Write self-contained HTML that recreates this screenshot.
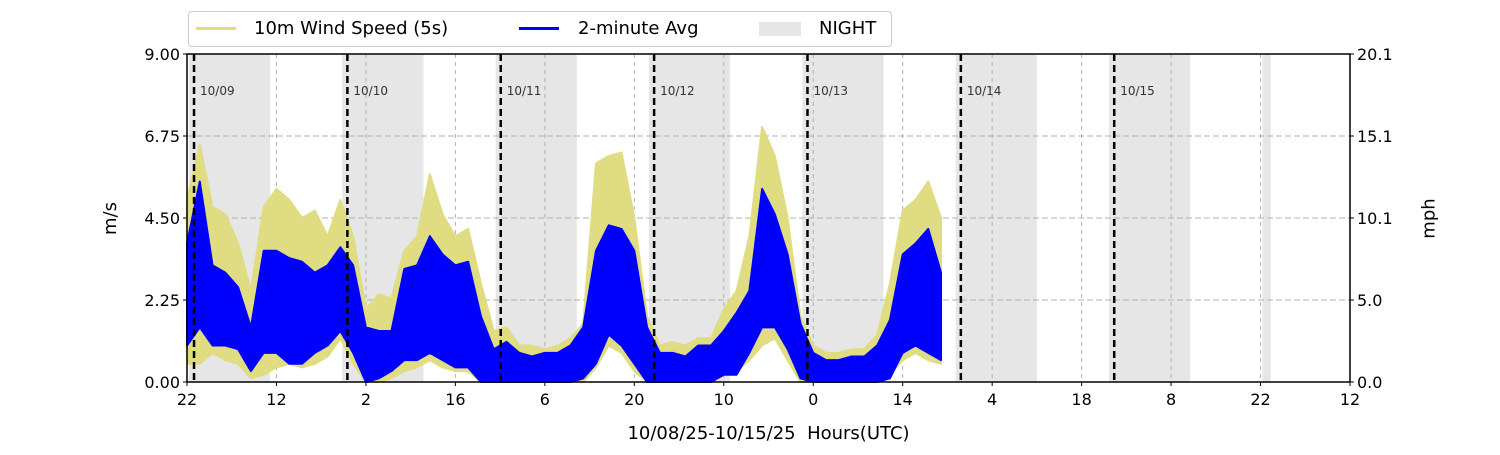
<!DOCTYPE html>
<html><head><meta charset="utf-8"><style>
body{margin:0;background:#fff;font-family:"Liberation Sans","DejaVu Sans",sans-serif}
svg text{font-family:"DejaVu Sans","Liberation Sans",sans-serif}
</style></head><body>
<svg id="c" width="1500" height="450" viewBox="0 0 1500 450"></svg>
<script>
const tickLabels=["22","12","2","16","6","20","10","0","14","4","18","8","22","12"];
const dayLabels=["10/09","10/10","10/11","10/12","10/13","10/14","10/15"];
const yTicks=[0,2.25,4.5,6.75,9];
const mphLabels=["0.0","5.0","10.1","15.1","20.1"];
const gustHi=[5.0,6.5,4.8,4.6,3.8,2.5,4.8,5.3,5.0,4.5,4.7,4.0,5.0,4.0,2.0,2.4,2.3,3.6,4.0,5.7,4.6,4.0,4.2,2.7,1.4,1.5,1.0,1.0,0.9,1.0,1.2,1.6,6.0,6.2,6.3,4.5,1.8,1.0,1.1,1.0,1.2,1.2,2.0,2.5,4.0,7.0,6.2,4.5,1.8,1.0,0.8,0.8,0.9,0.9,1.3,2.7,4.7,5.0,5.5,4.5];
const gustLo=[0.5,0.5,0.8,0.6,0.5,0.1,0.2,0.4,0.5,0.4,0.5,0.7,1.2,0.5,0,0,0.1,0.3,0.4,0.6,0.4,0.3,0.3,0,0,0,0,0,0,0,0,0,0.4,1.0,0.8,0.3,0,0,0,0,0,0,0.2,0.3,0.6,1.0,1.2,0.6,0,0,0,0,0,0,0,0.2,0.6,0.8,0.6,0.5];
const avgHi=[3.8,5.5,3.2,3.0,2.6,1.5,3.6,3.6,3.4,3.3,3.0,3.2,3.7,3.2,1.5,1.4,1.4,3.1,3.2,4.0,3.5,3.2,3.3,1.8,0.9,1.1,0.8,0.7,0.8,0.8,1.0,1.5,3.6,4.3,4.2,3.6,1.5,0.8,0.8,0.7,1.0,1.0,1.4,1.9,2.5,5.3,4.6,3.5,1.6,0.8,0.6,0.6,0.7,0.7,1.0,1.7,3.5,3.8,4.2,3.0];
const avgLo=[1.0,1.5,1.0,1.0,0.9,0.3,0.8,0.8,0.5,0.5,0.8,1.0,1.4,0.8,0,0.1,0.3,0.6,0.6,0.8,0.6,0.4,0.4,0,0,0,0,0,0,0,0,0.1,0.5,1.3,1.0,0.5,0,0,0,0,0,0,0.2,0.2,0.8,1.5,1.5,0.9,0.1,0,0,0,0,0,0,0.1,0.8,1.0,0.8,0.6];
const L=187,R=1350,T=54,B=382;
const X=h=>L+h*(R-L)/182, Y=v=>B-v*(B-T)/9;
const svg=document.getElementById('c');const NS='http://www.w3.org/2000/svg';
function mk(t,a,p){const e=document.createElementNS(NS,t);for(const k in a)e.setAttribute(k,a[k]);(p||svg).appendChild(e);return e;}
for(let k=0;k<7;k++){const m=1.1+24*k;
const r=mk('rect',{x:X(m-0.8),y:T,width:X(m+11.9)-X(m-0.8),height:B-T,fill:'#e6e6e6'});

}
const r7=mk('rect',{x:X(1.1+24*7-0.8),y:T,width:X(1.1+24*7+0.5)-X(1.1+24*7-0.8),height:B-T,fill:'#e6e6e6'});


tickLabels.forEach((s,i)=>{const x=X(i*14);
if(i>0&&i<13){const g=mk('line',{x1:x,x2:x,y1:T,y2:B,stroke:'#b0b0b0','stroke-dasharray':'4,4','stroke-width':1});

}
mk('line',{x1:x,x2:x,y1:B,y2:B+4,stroke:'#000'});
const t=mk('text',{x:x,y:B+23,'text-anchor':'middle','font-size':16});t.textContent=s;

});
yTicks.forEach((v,i)=>{const y=Y(v);
if(i>0&&i<4){const g=mk('line',{x1:L,x2:R,y1:y,y2:y,stroke:'#b0b0b0','stroke-dasharray':'6,3','stroke-width':1});

}
mk('line',{x1:L-4,x2:L,y1:y,y2:y,stroke:'#000'});mk('line',{x1:R,x2:R+4,y1:y,y2:y,stroke:'#000'});
const t=mk('text',{x:L-7,y:y+6,'text-anchor':'end','font-size':16});t.textContent=v.toFixed(2);


const t2=mk('text',{x:R+7,y:y+6,'font-size':16});t2.textContent=mphLabels[i];

});
function band(hi,lo,color,name){let pts=[];hi.forEach((v,i)=>pts.push(X(i*2)+','+Y(v)));
for(let i=lo.length-1;i>=0;i--)pts.push(X(i*2)+','+Y(lo[i]));
const p=mk('polygon',{points:pts.join(' '),fill:color,stroke:color,'stroke-width':2,'stroke-linejoin':'round'});

}
band(gustHi,gustLo,'#dfdc82','wind-speed-5s-series');
band(avgHi,avgLo,'#0000ff','two-minute-avg-series');
dayLabels.forEach((d,k)=>{const x=X(1.1+24*k);
const l=mk('line',{x1:x,x2:x,y1:T,y2:B,stroke:'#000','stroke-width':2.5,'stroke-dasharray':'7,4'});


const t=mk('text',{x:x+6,y:95,'font-size':12,fill:'#333'});t.textContent=d;

});
const f=mk('rect',{x:L,y:T,width:R-L,height:B-T,fill:'none',stroke:'#000','stroke-width':1.5});


</script>
<div style="position:absolute;left:188px;top:11px;width:702px;height:34px;border:1px solid #ccc;border-radius:4px;background:#fff;font-family:'DejaVu Sans','Liberation Sans',sans-serif;font-size:18px">
<span style="position:absolute;left:7px;top:15px;width:40px;height:3px;background:#dfdc82"></span>
<span style="position:absolute;left:65px;top:6px">10m Wind Speed (5s)</span>
<span style="position:absolute;left:330px;top:15px;width:40px;height:3px;background:#0000ff"></span>
<span style="position:absolute;left:389px;top:6px">2-minute Avg</span>
<span style="position:absolute;left:570px;top:10px;width:42px;height:14px;background:#e6e6e6"></span>
<span style="position:absolute;left:630px;top:6px">NIGHT</span>
</div>
<div style="position:absolute;left:0;width:1537px;top:423px;text-align:center;font-family:'DejaVu Sans','Liberation Sans',sans-serif;font-size:18px">10/08/25-10/15/25&nbsp; Hours(UTC)</div>
<div style="position:absolute;left:94px;top:208px;transform:rotate(-90deg);font-family:'DejaVu Sans','Liberation Sans',sans-serif;font-size:18px">m/s</div>
<div style="position:absolute;left:1409px;top:208px;transform:rotate(-90deg);font-family:'DejaVu Sans','Liberation Sans',sans-serif;font-size:18px">mph</div>
</body></html>
